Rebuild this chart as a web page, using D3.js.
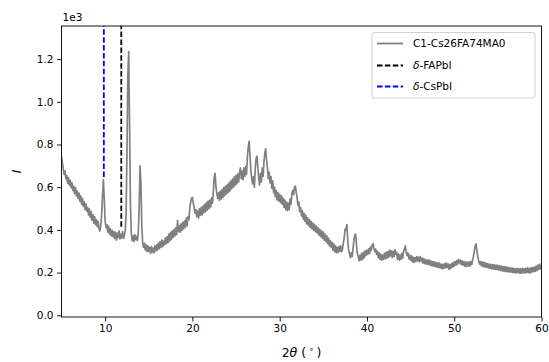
<!DOCTYPE html>
<html>
<head>
<meta charset="utf-8">
<script src="https://cdn.jsdelivr.net/npm/d3@7"></script>
<style>
  html, body { margin: 0; padding: 0; background: #fff; }
  svg { display: block; font-family: "DejaVu Sans", sans-serif; }
</style>
</head>
<body>
<svg id="chart" width="549" height="362"></svg>
<script>
// XRD scan of sample C1-Cs26FA74MA0: 2θ from 5° to 60°, step 0.1°
const scanStart = 5, scanStep = 0.1;
const intensity = [
  745, 712, 690, 660, 675, 640, 655, 618, 645, 610,   // 5
  632, 598, 620, 585, 605, 570, 598, 560, 582, 548,   // 6
  572, 535, 560, 520, 548, 510, 532, 495, 522, 488,   // 7
  505, 470, 498, 458, 485, 445, 470, 432, 462, 425,   // 8
  448, 415, 440, 405, 395, 420, 470, 560, 635, 545,   // 9
  440, 410, 425, 390, 418, 380, 405, 372, 398, 368,   // 10
  392, 360, 388, 352, 385, 365, 395, 358, 380, 362,   // 11
  392, 360, 375, 395, 470, 760, 1120, 1235, 880, 520, // 12
  385, 350, 372, 345, 378, 355, 370, 350, 392, 500,   // 13
  700, 620, 420, 340, 318, 338, 305, 330, 298, 325,   // 14
  300, 318, 290, 322, 296, 315, 292, 325, 302, 330,   // 15
  305, 338, 312, 345, 318, 352, 322, 348, 330, 362,   // 16
  335, 368, 340, 380, 348, 388, 355, 395, 365, 402,   // 17
  372, 410, 378, 445, 392, 420, 388, 428, 398, 435,   // 18
  405, 442, 412, 455, 420, 462, 448, 500, 530, 548,   // 19
  552, 525, 505, 480, 495, 462, 488, 455, 498, 468,   // 20
  505, 470, 512, 480, 520, 485, 528, 492, 535, 500,   // 21
  540, 508, 550, 525, 580, 650, 665, 600, 570, 548,   // 22
  575, 538, 582, 545, 590, 552, 598, 560, 605, 568,   // 23
  612, 575, 620, 582, 630, 592, 638, 600, 648, 608,   // 24
  655, 615, 662, 625, 670, 690, 640, 675, 635, 690,   // 25
  650, 695, 660, 740, 790, 815, 745, 680, 640, 615,   // 26
  650, 600, 690, 735, 745, 690, 640, 610, 665, 625,   // 27
  690, 650, 720, 760, 780, 725, 690, 640, 670, 620,   // 28
  650, 595, 630, 575, 600, 555, 585, 540, 575, 535,   // 29
  568, 528, 560, 520, 548, 505, 540, 495, 530, 490,   // 30
  525, 495, 545, 520, 570, 585, 565, 600, 605, 575,   // 31
  548, 515, 530, 485, 505, 465, 490, 450, 478, 440,   // 32
  468, 428, 458, 420, 448, 412, 440, 405, 432, 398,   // 33
  425, 392, 418, 385, 410, 375, 402, 368, 395, 360,   // 34
  390, 352, 380, 345, 372, 335, 362, 325, 350, 318,   // 35
  342, 305, 335, 298, 325, 292, 318, 295, 322, 300,   // 36
  325, 298, 312, 340, 365, 405, 400, 425, 350, 305,   // 37
  290, 270, 292, 275, 310, 350, 375, 380, 330, 290,   // 38
  275, 255, 282, 258, 290, 262, 295, 270, 302, 280,   // 39
  305, 285, 312, 290, 320, 305, 330, 335, 315, 298,   // 40
  310, 285, 300, 270, 292, 262, 285, 258, 282, 262,   // 41
  290, 265, 295, 268, 298, 272, 305, 278, 302, 270,   // 42
  300, 275, 308, 285, 295, 262, 288, 258, 282, 262,   // 43
  290, 268, 300, 310, 325, 295, 280, 292, 265, 282,   // 44
  258, 278, 250, 272, 248, 270, 252, 275, 255, 272,   // 45
  250, 275, 255, 268, 245, 265, 242, 262, 240, 258,   // 46
  238, 260, 235, 255, 232, 252, 230, 250, 228, 248,   // 47
  226, 246, 224, 244, 222, 240, 218, 238, 220, 242,   // 48
  222, 245, 224, 240, 215, 238, 220, 242, 225, 248,   // 49
  230, 252, 235, 256, 240, 262, 245, 258, 238, 255,   // 50
  235, 252, 230, 250, 228, 248, 232, 250, 230, 252,   // 51
  238, 258, 275, 300, 325, 335, 300, 275, 255, 240,   // 52
  252, 232, 250, 228, 248, 226, 245, 225, 242, 222,   // 53
  240, 220, 238, 218, 238, 216, 236, 215, 235, 214,   // 54
  234, 212, 232, 210, 230, 208, 228, 206, 228, 205,   // 55
  226, 204, 225, 203, 222, 202, 222, 200, 220, 200,   // 56
  218, 198, 220, 200, 218, 198, 218, 197, 220, 200,   // 57
  218, 198, 220, 200, 222, 200, 220, 198, 222, 202,   // 58
  224, 204, 226, 206, 230, 210, 235, 215, 240, 218,   // 59
  232                                                 // 60
];
const twoTheta = intensity.map((_, i) => +(scanStart + i * scanStep).toFixed(1));

// reference phase positions (2θ) and the intensity where each marker starts
const refNames = ["FAPbI", "CsPbI"];
const refPositions = [11.85, 9.85];
const refFloors = [415, 648];
const refColors = ["#000000", "#0000ff"];

const seriesName = "C1-Cs26FA74MA0";
const xTicks = [10, 20, 30, 40, 50, 60];
const yTicks = [0, 200, 400, 600, 800, 1000, 1200];
const yTickLabels = ["0.0", "0.2", "0.4", "0.6", "0.8", "1.0", "1.2"];

const svg = d3.select("#chart");
const plotLeft = 61.5, plotRight = 541.5, plotTop = 26, plotBottom = 317;

const x = d3.scaleLinear().domain([5, 60]).range([plotLeft, plotRight]);
const y = d3.scaleLinear().domain([-8, 1355]).range([plotBottom, plotTop]);

svg.append("defs").append("clipPath").attr("id", "plotClip")
  .append("rect").attr("x", plotLeft).attr("y", plotTop)
  .attr("width", plotRight - plotLeft).attr("height", plotBottom - plotTop);

const plot = svg.append("g").attr("clip-path", "url(#plotClip)");

const pts = twoTheta.map((t, i) => [t, intensity[i]]);
plot.append("path")
  .datum(pts)
  .attr("fill", "none")
  .attr("stroke", "#808080")
  .attr("stroke-width", 1.7)
  .attr("stroke-linejoin", "round")
  .attr("d", d3.line().x(d => x(d[0])).y(d => y(d[1])));

refPositions.forEach((p, i) => {
  plot.append("line")
    .attr("x1", x(p)).attr("x2", x(p))
    .attr("y1", y(refFloors[i])).attr("y2", y(1355))
    .attr("stroke", refColors[i])
    .attr("stroke-width", 1.8)
    .attr("stroke-dasharray", "5.5,2.4");
});

// axes
const xAxis = d3.axisBottom(x).tickValues(xTicks).tickFormat(d3.format("d"))
  .tickSize(4.5).tickPadding(3.5);
const yAxis = d3.axisLeft(y).tickValues(yTicks).tickFormat((d, i) => yTickLabels[i])
  .tickSize(4.5).tickPadding(3.5);

const gx = svg.append("g").attr("transform", `translate(0,${plotBottom})`).call(xAxis);
const gy = svg.append("g").attr("transform", `translate(${plotLeft},0)`).call(yAxis);
[gx, gy].forEach(g => {
  g.select(".domain").remove();
  g.selectAll(".tick line").attr("stroke", "#000").attr("stroke-width", 0.9);
  g.selectAll(".tick text").attr("fill", "#000")
    .style("font-family", "DejaVu Sans").style("font-size", "10.5px");
});

// frame
svg.append("rect")
  .attr("x", plotLeft).attr("y", plotTop)
  .attr("width", plotRight - plotLeft).attr("height", plotBottom - plotTop)
  .attr("fill", "none").attr("stroke", "#000").attr("stroke-width", 0.9);

// offset label
svg.append("text").attr("x", plotLeft + 1).attr("y", 21)
  .style("font-size", "10.5px").attr("fill", "#000").text("1e3");

// axis titles
const xl = svg.append("text").attr("x", (plotLeft + plotRight) / 2).attr("y", 357)
  .attr("text-anchor", "middle").style("font-size", "12.5px").attr("fill", "#000");
xl.append("tspan").text("2");
xl.append("tspan").style("font-style", "italic").text("θ");
xl.append("tspan").text(" (\u2009");
xl.append("tspan").attr("dy", -5).style("font-size", "8.5px").text("∘");
xl.append("tspan").attr("dy", 5).text("\u2009)");

svg.append("text")
  .attr("transform", `translate(21,${(plotTop + plotBottom) / 2}) rotate(-90)`)
  .attr("text-anchor", "middle")
  .style("font-size", "12.5px").style("font-style", "italic")
  .attr("fill", "#000").text("I");

// legend
const lg = svg.append("g");
lg.append("rect").attr("x", 372).attr("y", 32.5).attr("width", 163).attr("height", 65.5)
  .attr("rx", 2.5).attr("fill", "#fff").attr("fill-opacity", 0.8)
  .attr("stroke", "#cccccc").attr("stroke-width", 0.9);

const legendRows = [
  { label: [{ t: seriesName }], color: "#808080", dash: null },
  { label: [{ t: "δ", i: true }, { t: "-" + refNames[0] }], color: refColors[0], dash: "5.5,2.4" },
  { label: [{ t: "δ", i: true }, { t: "-" + refNames[1] }], color: refColors[1], dash: "5.5,2.4" }
];
const rowY = [43.5, 65.5, 86.5];
legendRows.forEach((r, i) => {
  lg.append("line")
    .attr("x1", 377).attr("x2", 403)
    .attr("y1", rowY[i]).attr("y2", rowY[i])
    .attr("stroke", r.color).attr("stroke-width", 1.8)
    .attr("stroke-dasharray", r.dash);
  const t = lg.append("text").attr("x", 413).attr("y", rowY[i] + 3.8)
    .style("font-size", "10.5px").attr("fill", "#000");
  r.label.forEach(s => {
    const sp = t.append("tspan").text(s.t);
    if (s.i) sp.style("font-style", "italic");
  });
});
</script>
</body>
</html>
